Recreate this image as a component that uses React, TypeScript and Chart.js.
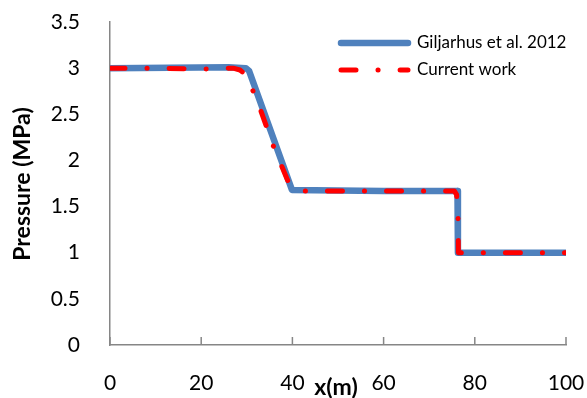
import React, { useEffect, useRef } from "react";
import { Chart, registerables } from "chart.js";
Chart.register(...registerables);

const refX = [0, 26, 29.8, 30.5, 39.9, 60, 76.2, 76.3, 100];
const refP = [3.0, 3.01, 3.0, 2.97, 1.68, 1.67, 1.67, 1.0, 1.0];
const curX = [0, 10, 20, 27, 28.5, 29.5, 30.5, 33, 36, 39, 40.5, 42, 60, 75.5, 76, 76.3, 76.4, 78, 100];
const curP = [3.0, 3.0, 2.99, 3.0, 2.98, 2.94, 2.86, 2.55, 2.13, 1.78, 1.69, 1.67, 1.67, 1.67, 1.63, 1.45, 1.0, 1.0, 1.0];
const xTickValues = [0, 20, 40, 60, 80, 100];
const seriesNames = ["Giljarhus et al. 2012", "Current work"];
const seriesColors = ["#4F81BD", "#FF0000"];
const xTitle = "x(m)";
const yTitle = "Pressure (MPa)";

const FONT = "Lato, 'Open Sans', sans-serif";
const AXIS = "#868686";
const DASH = [15, 22, 0.1, 22];

const decor = {
  id: "decor",
  beforeDatasetsDraw(chart: any) {
    const { ctx, chartArea, scales } = chart;
    ctx.save();
    ctx.strokeStyle = AXIS;
    ctx.lineWidth = 1.5;
    for (const v of xTickValues) {
      const px = scales.x.getPixelForValue(v);
      ctx.beginPath();
      ctx.moveTo(px, chartArea.bottom);
      ctx.lineTo(px, chartArea.bottom - 8);
      ctx.stroke();
    }
    ctx.restore();
  },
  afterDraw(chart: any) {
    const { ctx } = chart;
    ctx.save();
    ctx.fillStyle = "#000";
    ctx.font = `bold 23px ${FONT}`;
    ctx.textAlign = "center";
    ctx.textBaseline = "middle";
    ctx.fillText(xTitle, 336, 388);
    ctx.translate(23, 184);
    ctx.rotate(-Math.PI / 2);
    ctx.fillText(yTitle, 0, 0);
    ctx.restore();

    ctx.save();
    ctx.lineCap = "round";
    const rows = [43, 70];
    rows.forEach((y, i) => {
      ctx.beginPath();
      ctx.strokeStyle = seriesColors[i];
      ctx.lineWidth = i === 0 ? 6.5 : 5;
      ctx.setLineDash(i === 0 ? [] : DASH);
      ctx.moveTo(341, y);
      ctx.lineTo(408, y);
      ctx.stroke();
      ctx.setLineDash([]);
      ctx.fillStyle = "#000";
      ctx.font = `17px ${FONT}`;
      ctx.textAlign = "left";
      ctx.textBaseline = "middle";
      ctx.fillText(seriesNames[i], 417, y);
    });
    ctx.restore();
  },
};

const noPad = (s: any) => {
  s.paddingTop = 0;
  s.paddingBottom = 0;
  s.paddingLeft = 0;
  s.paddingRight = 0;
};

export default function App() {
  const ref = useRef<HTMLCanvasElement>(null);
  useEffect(() => {
    document.body.style.margin = "0";
    const chart = new Chart(ref.current!, {
      type: "line",
      data: {
        datasets: [
          {
            label: seriesNames[1],
            data: curX.map((x, i) => ({ x, y: curP[i] })),
            borderColor: seriesColors[1],
            borderWidth: 5,
            borderDash: DASH,
            borderCapStyle: "round",
            borderJoinStyle: "round",
            pointRadius: 0,
            fill: false,
          },
          {
            label: seriesNames[0],
            data: refX.map((x, i) => ({ x, y: refP[i] })),
            borderColor: seriesColors[0],
            borderWidth: 6.5,
            borderCapStyle: "round",
            borderJoinStyle: "round",
            pointRadius: 0,
            fill: false,
          },
        ],
      },
      options: {
        animation: false,
        responsive: false,
        layout: { padding: { top: 22, right: 21, left: 0, bottom: 0 } },
        plugins: { legend: { display: false }, tooltip: { enabled: false } },
        scales: {
          x: {
            type: "linear",
            min: 0,
            max: 100,
            afterFit: (s: any) => { s.height = 53; noPad(s); },
            afterBuildTicks: (s: any) => { s.ticks = xTickValues.map((v) => ({ value: v })); },
            grid: { drawOnChartArea: false, drawTicks: false },
            border: { color: AXIS, width: 1.5 },
            ticks: { padding: 26, color: "#000", font: { family: FONT, size: 21 } },
          },
          y: {
            type: "linear",
            min: 0,
            max: 3.5,
            afterFit: (s: any) => { s.width = 110; noPad(s); },
            grid: { drawOnChartArea: false, drawTicks: false },
            border: { color: AXIS, width: 1.5 },
            ticks: {
              stepSize: 0.5,
              padding: 30,
              color: "#000",
              font: { family: FONT, size: 21 },
              callback: (v: any) => String(v),
            },
          },
        },
      },
      plugins: [decor],
    });
    return () => chart.destroy();
  }, []);
  return <canvas ref={ref} width={587} height={398} style={{ display: "block" }} />;
}
